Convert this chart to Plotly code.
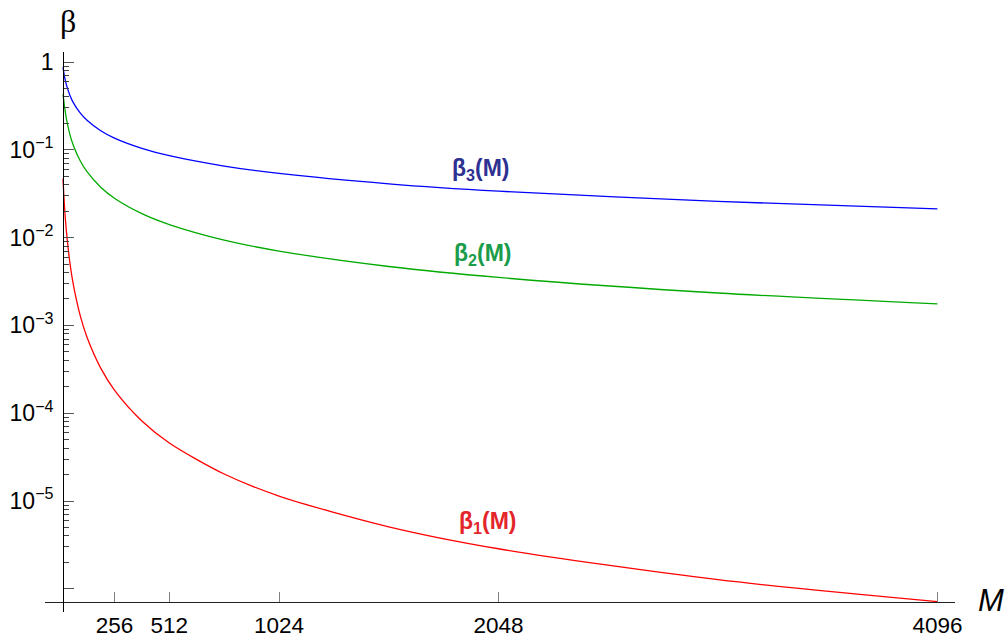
import plotly.graph_objects as go

# ---- data ----
M = [16, 20, 24, 32, 48, 64, 96, 128, 192, 256, 384, 512, 768, 1024, 1536, 2048, 3072, 4096]
beta3 = [0.874, 0.753, 0.666, 0.549, 0.419, 0.345, 0.263, 0.217, 0.165, 0.136, 0.104,
         0.0857, 0.0653, 0.0538, 0.0410, 0.0338, 0.0258, 0.0213]
beta2 = [0.43, 0.36, 0.30, 0.225, 0.15, 0.1125, 0.075, 0.0563, 0.0375, 0.0281, 0.01875,
         0.0141, 0.00938, 0.00703, 0.00469, 0.00352, 0.00234, 0.00176]
beta1 = [0.0469, 0.030, 0.0208, 0.0117, 0.00521, 0.00293, 0.0013, 0.000732, 0.000326,
         0.000183, 8.14e-5, 4.58e-5, 2.03e-5, 1.14e-5, 5.09e-6, 2.86e-6, 1.27e-6, 7.15e-7]

x_ticks = [256, 512, 1024, 2048, 4096]
x_ticktext = ["256", "512", "1024", "2048", "4096"]
y_ticks = [1, 1e-1, 1e-2, 1e-3, 1e-4, 1e-5, 1e-6]
y_ticktext = ["1", "10<sup>−1</sup>", "10<sup>−2</sup>", "10<sup>−3</sup>",
              "10<sup>−4</sup>", "10<sup>−5</sup>", ""]
y_minor = [m * 10.0 ** k for k in range(-6, 0) for m in range(2, 10)]

series = [
    ("β1(M)", beta1, "#ff0000"),
    ("β2(M)", beta2, "#00aa00"),
    ("β3(M)", beta3, "#0000ff"),
]

fig = go.Figure()
for name, vals, col in series:
    fig.add_trace(go.Scatter(x=M, y=vals, mode="lines", name=name,
                             line=dict(color=col, width=1.3, shape="spline", smoothing=0.8),
                             showlegend=False))

FONT = "Liberation Sans, Arial, sans-serif"

L, R, T, B = 45, 53, 52, 26
plot_w = 1008 - L - R
plot_h = 638 - T - B


def px_to_paper(px, py):
    return (px - L) / plot_w, (638 - B - py) / plot_h


bx, by = px_to_paper(68, 21)
mx, my = px_to_paper(991, 600)

ann_common = dict(showarrow=False, xanchor="center", yanchor="middle")

fig.update_layout(
    width=1008, height=638, autosize=False,
    margin=dict(l=L, r=R, t=T, b=B, pad=0),
    paper_bgcolor="white", plot_bgcolor="white",
    xaxis=dict(
        range=[-68, 4178], anchor="free", position=0.0179, automargin=False,
        showline=True, linecolor="#222", linewidth=1.3,
        showgrid=False, zeroline=False,
        ticks="inside", ticklen=10, tickwidth=1.3, tickcolor="#808080",
        tickmode="array", tickvals=x_ticks, ticktext=x_ticktext,
        tickfont=dict(family=FONT, size=22.5, color="black"),
        ticklabelstandoff=3,
    ),
    yaxis=dict(
        type="log", range=[-6.264, 0.114], anchor="free", position=0.0201, automargin=False,
        showline=True, linecolor="black", linewidth=1.3,
        showgrid=False, zeroline=False,
        ticks="inside", ticklen=10, tickwidth=1.3, tickcolor="#555",
        tickmode="array", tickvals=y_ticks, ticktext=y_ticktext,
        tickfont=dict(family=FONT, size=23, color="black"),
        ticklabelstandoff=5,
        minor=dict(tickmode="array", tickvals=y_minor, ticks="inside", ticklen=5,
                   tickwidth=1.2, tickcolor="#444", showgrid=False),
    ),
    annotations=[
        dict(text="<b>β<sub>3</sub>(M)</b>", x=1962, y=-1.222, xref="x", yref="y",
             font=dict(family=FONT, size=23, color="#2e3192"), **ann_common),
        dict(text="<b>β<sub>2</sub>(M)</b>", x=1975, y=-2.19, xref="x", yref="y",
             font=dict(family=FONT, size=23, color="#1a9c4a"), **ann_common),
        dict(text="<b>β<sub>1</sub>(M)</b>", x=1995, y=-5.25, xref="x", yref="y",
             font=dict(family=FONT, size=23, color="#e3262b"), **ann_common),
        dict(text="β", x=bx, y=by, xref="paper", yref="paper",
             font=dict(family="Liberation Serif, Times New Roman, serif", size=32, color="black"),
             **ann_common),
        dict(text="<i>M</i>", x=mx, y=my, xref="paper", yref="paper",
             font=dict(family=FONT, size=31, color="black"), **ann_common),
    ],
)

fig.write_html("out.html", config={"displayModeBar": False},
               post_script="document.body.style.margin='0px';document.body.style.overflow='hidden';")
